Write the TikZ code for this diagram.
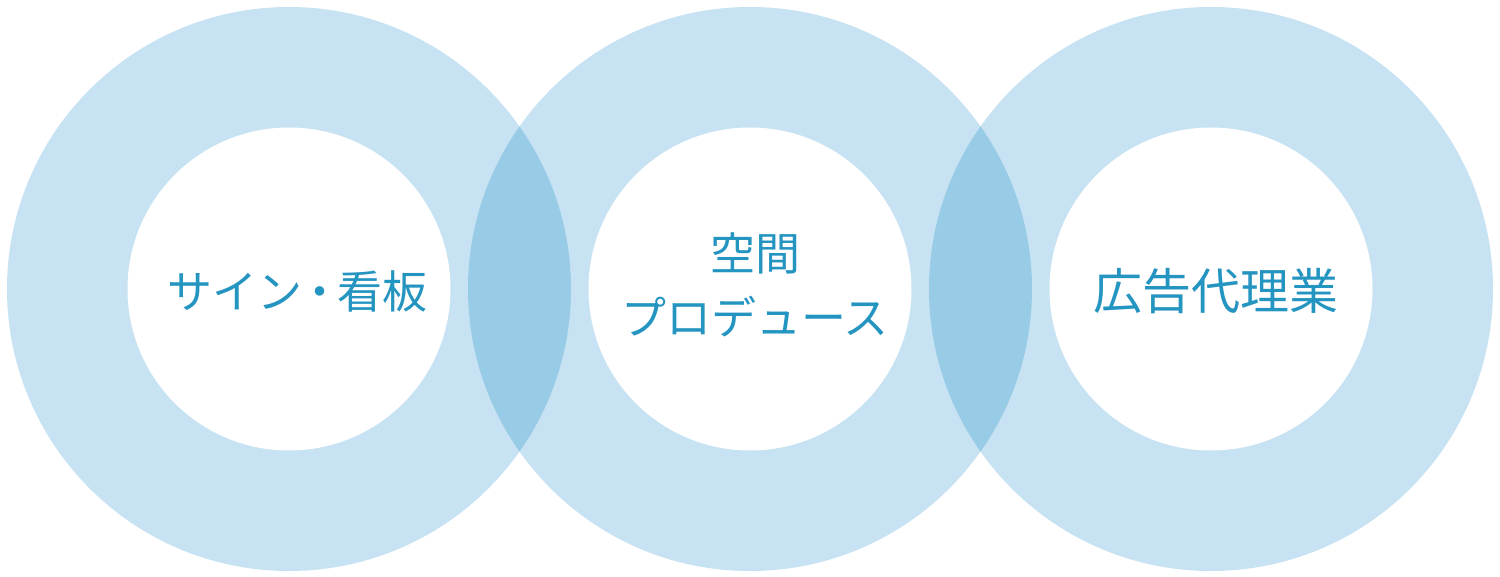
\documentclass[tikz,border=0pt]{standalone}
\usepackage{fontspec}
\newfontfamily\jpfont{Noto Sans CJK JP}
\definecolor{ringblue}{HTML}{C7E2F2}
\definecolor{lensblue}{HTML}{98CBE6}
\definecolor{textblue}{HTML}{2494C0}
\tikzset{
  ring/.style={fill=ringblue, draw=none},
  lens/.style={fill=lensblue, draw=none},
  hole/.style={fill=white, draw=none},
  label/.style={text=textblue, font=\jpfont\fontsize{45}{64}\selectfont, align=center, inner sep=0pt},
  biglabel/.style={label, font=\jpfont\fontsize{49}{64}\selectfont}
}
\begin{document}
\begin{tikzpicture}[x=1pt,y=-1pt]
\useasboundingbox (0,0) rectangle (1500,577);
\fill[white] (0,0) rectangle (1500,577);
\coordinate (cl) at (289,289);
\coordinate (cm) at (750,289);
\coordinate (cr) at (1211,289);
% outer rings
\foreach \c in {cl,cm,cr} { \fill[ring] (\c) circle[radius=282]; }
% overlaps
\begin{scope}
  \clip (cl) circle[radius=282];
  \fill[lens] (cm) circle[radius=282];
\end{scope}
\begin{scope}
  \clip (cm) circle[radius=282];
  \fill[lens] (cr) circle[radius=282];
\end{scope}
% inner holes
\foreach \c in {cl,cm,cr} { \fill[hole] (\c) circle[radius=161.5]; }
% labels
\node[label] (tl) at (297,291) {サイン\hspace{-5pt}・\hspace{-5pt}看板};
\node[label] (tm) at (755,285) {空間\\プロデュース};
\node[biglabel] (tr) at (1216,291) {広告代理業};
\end{tikzpicture}
\end{document}
